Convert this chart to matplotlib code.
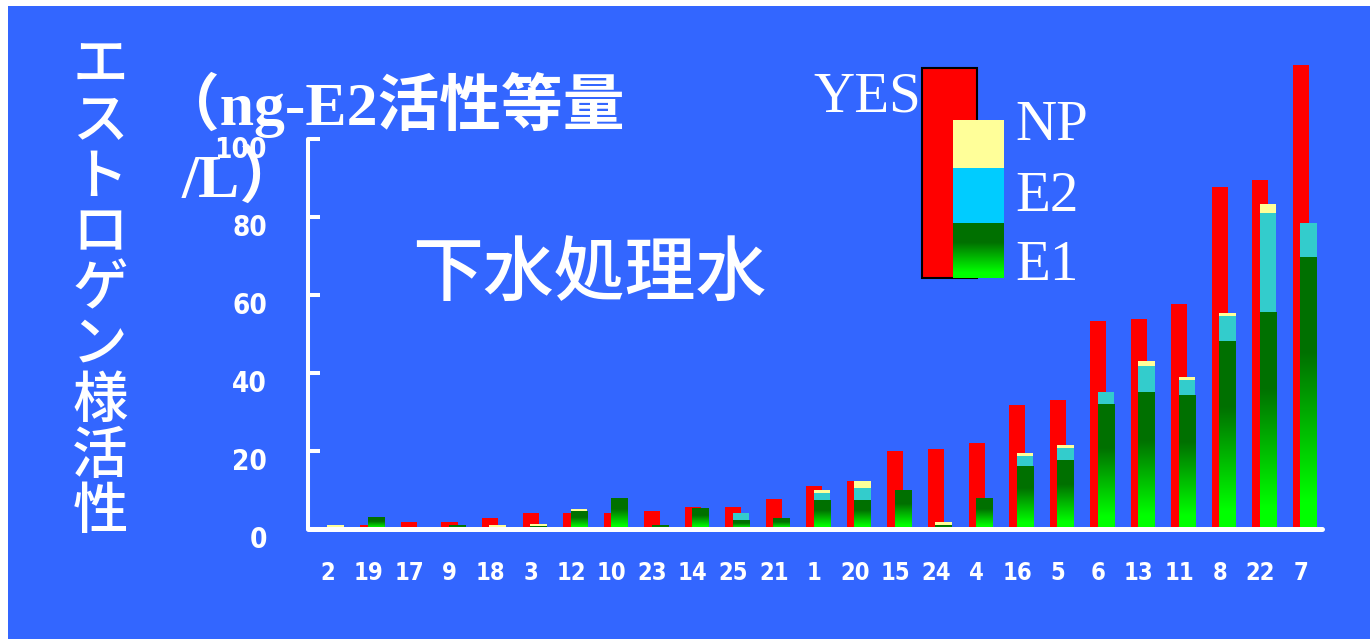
import numpy as np
import matplotlib
matplotlib.use('Agg')
import matplotlib.pyplot as plt
from matplotlib.patches import Rectangle
from matplotlib import font_manager as fm

# sample numbers, sorted by YES activity
samples = ['2', '19', '17', '9', '18', '3', '12', '10', '23', '14', '25', '21', '1',
           '20', '15', '24', '4', '16', '5', '6', '13', '11', '8', '22', '7']
# YES assay (ng-E2 eq/L)
yes_act = [0.0, 0.9, 1.9, 1.9, 2.9, 4.2, 4.2, 4.2, 4.7, 5.7, 5.7, 7.8, 11.1,
           12.2, 19.9, 20.5, 22.0, 31.9, 33.2, 53.4, 53.9, 57.8, 87.8, 89.4, 118.9]
# calculated from measured concentrations
e1_act = [0.0, 3.0, 0.0, 0.9, 0.0, 0.6, 4.4, 7.8, 0.9, 5.2, 2.3, 2.8, 7.3,
          7.3, 9.8, 0.9, 7.8, 15.9, 17.6, 31.9, 35.0, 34.2, 48.2, 55.4, 69.7]
e2_act = [0.0, 0.0, 0.0, 0.0, 0.0, 0.0, 0.0, 0.0, 0.0, 0.0, 1.8, 0.0, 2.0,
          3.1, 0.0, 0.0, 0.0, 2.7, 3.1, 3.3, 6.7, 4.1, 6.5, 25.7, 8.8]
np_act = [0.9, 0.0, 0.0, 0.0, 0.9, 0.8, 0.8, 0.0, 0.0, 0.0, 0.0, 0.0, 0.8,
          1.8, 0.0, 0.9, 0.0, 0.8, 0.8, 0.0, 1.3, 0.8, 0.7, 2.3, 0.0]
y_ticks = [0, 20, 40, 60, 80, 100]

BLUE = '#3366FF'
CJK = ['Noto Sans CJK JP', 'DejaVu Sans']
SERIF = ['Liberation Serif', 'Noto Sans CJK JP']

names = {f.name for f in fm.fontManager.ttflist}
if 'Liberation Sans Narrow' in names:
    num_font = fm.FontProperties(family='Liberation Sans Narrow', weight='bold')
else:
    num_font = fm.FontProperties(family='DejaVu Sans', weight='bold', stretch='condensed')


def green_grad(n=256):
    f = np.linspace(1, 0, n)
    s = np.clip((f - 0.1) / 0.55, 0, 1)
    dark = np.array([0.0, 0.44, 0.0])
    bright = np.array([0.0, 1.0, 0.0])
    rgb = bright + (dark - bright) * s[:, None]
    return rgb[:, None, :]


W, H = 1370, 639
fig = plt.figure(figsize=(W / 100, H / 100), dpi=100)
fig.patch.set_facecolor('white')
fig.add_artist(Rectangle((8 / W, 0), 1 - 8 / W, 1 - 6 / H, transform=fig.transFigure,
                         facecolor=BLUE, edgecolor='none', zorder=0))

ax = fig.add_axes([308 / W, 110 / H, 1014 / W, 487.5 / H])
ax.set_facecolor('none')
x = np.arange(len(samples))
e1 = np.array(e1_act)
e2 = np.array(e2_act)

ax.bar(x, yes_act, width=0.395, color='#FF0000', zorder=2)
e1_bars = ax.bar(x + 0.19, e1, width=0.41, color='none', zorder=3)
ax.bar(x + 0.19, e2, width=0.41, bottom=e1, color='#33CCCC', zorder=3)
ax.bar(x + 0.19, np_act, width=0.41, bottom=e1 + e2, color='#FFFF99', zorder=3)

grad = green_grad()
for p in e1_bars.patches:
    if p.get_height() <= 0:
        continue
    x0 = p.get_x()
    ax.imshow(grad, extent=(x0, x0 + p.get_width(), 0, p.get_height()),
              aspect='auto', origin='upper', interpolation='bilinear', zorder=3)

ax.set_xlim(-0.49, 24.52)
ax.set_ylim(0, 125)

for side in ['top', 'right']:
    ax.spines[side].set_visible(False)
ax.spines['left'].set_bounds(0, 100)
ax.spines['left'].set_color('white')
ax.spines['left'].set_linewidth(2.9)
ax.spines['left'].set_capstyle('round')
ax.spines['bottom'].set_color('white')
ax.spines['bottom'].set_linewidth(3.6)
ax.spines['bottom'].set_capstyle('round')
ax.spines['bottom'].set_zorder(5)
ax.spines['left'].set_zorder(5)

ax.set_yticks(y_ticks)
ax.tick_params(axis='y', direction='in', length=8.6, width=2.9, color='white',
               labelleft=False)
for v in y_ticks:
    ax.annotate(str(v), (0, v), xycoords=('axes fraction', 'data'),
                xytext=(-41, -11), textcoords='offset pixels', ha='right', va='center',
                color='white', fontproperties=num_font, fontsize=20)

ax.set_xticks(x)
ax.set_xticklabels(samples, fontproperties=num_font, fontsize=17, color='white')
ax.tick_params(axis='x', length=0, pad=23)

# overlay in pixel coordinates for titles and legend
ov = fig.add_axes([0, 0, 1, 1], zorder=6)
ov.set_facecolor('none')
ov.axis('off')

ylabel = 'エストロゲン様活性'
for i, ch in enumerate(ylabel):
    ov.text(100, 66 + i * 55.8, ch, ha='center', va='center', color='white',
            family=CJK, fontsize=40, weight='medium')

ov.text(158, 125, '（ng-E2活性等量', ha='left', va='baseline', color='white',
        family=SERIF, fontsize=44.5, weight='bold')
ov.text(182, 197, '/L）', ha='left', va='baseline', color='white',
        family=SERIF, fontsize=44.5, weight='bold')
ov.text(412, 275, '下水処理水', ha='left', va='center', color='white',
        family=CJK, fontsize=51, weight='medium')

# legend
ov.add_patch(Rectangle((922, 68), 55, 210, facecolor='#FF0000', edgecolor='black',
                       linewidth=1.5, zorder=2))
ov.add_patch(Rectangle((953, 120), 51, 48, facecolor='#FFFF99', edgecolor='none', zorder=3))
ov.add_patch(Rectangle((953, 168), 51, 55, facecolor='#00CCFF', edgecolor='none', zorder=3))
ov.imshow(grad, extent=(953, 1004, 278, 223), aspect='auto', origin='upper',
          interpolation='bilinear', zorder=3)
ov.text(813, 111, 'YES', ha='left', va='baseline', color='white', family=SERIF, fontsize=41)
ov.text(1015, 140, 'NP', ha='left', va='baseline', color='white', family=SERIF, fontsize=41)
ov.text(1015, 211, 'E2', ha='left', va='baseline', color='white', family=SERIF, fontsize=41)
ov.text(1015, 280, 'E1', ha='left', va='baseline', color='white', family=SERIF, fontsize=41)
ov.set_xlim(0, W)
ov.set_ylim(H, 0)

fig.savefig('out.png', dpi=100, facecolor=fig.get_facecolor())
